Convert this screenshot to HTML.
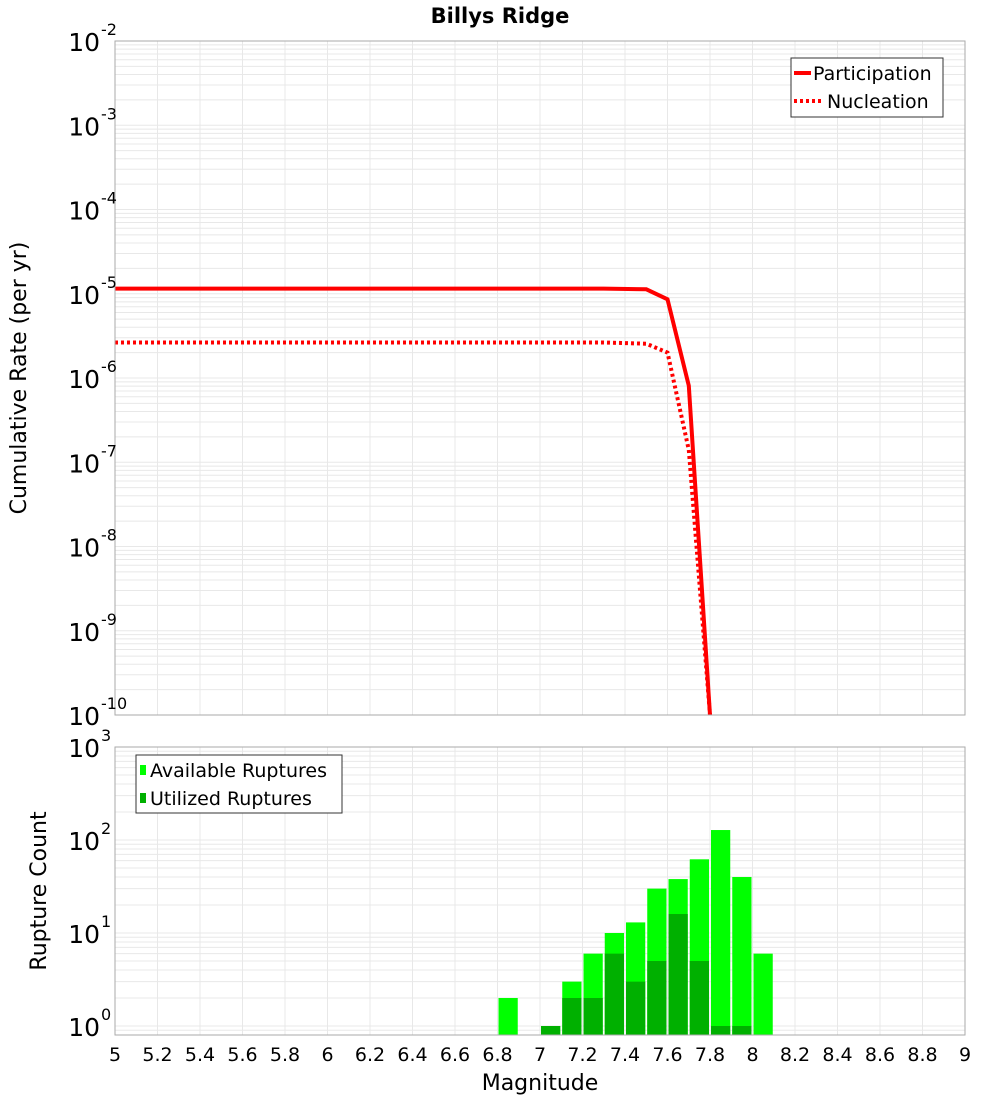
<!DOCTYPE html>
<html><head><meta charset="utf-8"><style>
body{margin:0;background:#fff;}
svg text{font-family:"DejaVu Sans","Liberation Sans",sans-serif;}
</style></head><body>
<svg id="chart" width="1000" height="1100" xmlns="http://www.w3.org/2000/svg">
<text x="500" y="23" text-anchor="middle" font-size="21" font-weight="bold">Billys Ridge</text>
<g id="topPlot"></g>
<g id="botPlot"></g>
<text transform="translate(26,378) rotate(-90)" text-anchor="middle" font-size="22">Cumulative Rate (per yr)</text>
<text transform="translate(46,891) rotate(-90)" text-anchor="middle" font-size="22">Rupture Count</text>
<text x="540" y="1090" text-anchor="middle" font-size="22">Magnitude</text>
</svg>
<script>
const magPart = [5.0, 7.3, 7.5, 7.6, 7.7, 7.8];
const ratePart = [1.15e-5, 1.15e-5, 1.13e-5, 8.6e-6, 8.1e-7, 1e-11];
const magNucl = [5.0, 7.3, 7.5, 7.6, 7.7, 7.8];
const rateNucl = [2.64e-6, 2.64e-6, 2.55e-6, 2.0e-6, 1.4e-7, 1e-11];
const binCenters = [6.85, 7.05, 7.15, 7.25, 7.35, 7.45, 7.55, 7.65, 7.75, 7.85, 7.95, 8.05];
const availCounts = [2, 1, 3, 6, 10, 13, 30, 38, 62, 128, 40, 6];
const usedCounts = [0, 1, 2, 2, 6, 3, 5, 16, 5, 1, 1, 0];
const xTicks = [5,5.2,5.4,5.6,5.8,6,6.2,6.4,6.6,6.8,7,7.2,7.4,7.6,7.8,8,8.2,8.4,8.6,8.8,9];
const topExps = [-2,-3,-4,-5,-6,-7,-8,-9,-10];
const botExps = [3,2,1,0];

const NS="http://www.w3.org/2000/svg";
const X0=115,X1=965;
const xs=m=>X0+(m-5)/4*(X1-X0);
const T0=41,T1=715; const yTop=v=>T0+(-2-Math.log10(v))/8*(T1-T0);
const B0=747,B1=1035; const BDEC=93; const yBot=v=>1026-Math.log10(v)*BDEC;
function mk(p,tag,a,txt){const e=document.createElementNS(NS,tag);for(const k in a)e.setAttribute(k,a[k]);if(txt!==undefined)e.textContent=txt;p.appendChild(e);return e;}
const gTop=document.getElementById('topPlot'),gBot=document.getElementById('botPlot');

function grid(g,y0,y1,decs,yf){
  for(const t of xTicks){const l=mk(g,'line',{x1:xs(t),x2:xs(t),y1:y0,y2:y1,stroke:'#e8e8e8'});
    
    }
  for(const d of decs){for(let k=1;k<10;k++){const y=yf(k*Math.pow(10,d));if(y<y0-0.5||y>y1+0.5)continue;
    const l=mk(g,'line',{x1:X0,x2:X1,y1:y,y2:y,stroke:'#e8e8e8'});
    
    }}
}
grid(gTop,T0,T1,[-3,-4,-5,-6,-7,-8,-9,-10],yTop);
grid(gBot,B0,B1,[-1,0,1,2],yBot);

function path(xa,ya){return xa.map((m,i)=>(i?'L':'M')+xs(m).toFixed(1)+','+Math.min(T1,yTop(ya[i])).toFixed(1)).join(' ');}
const cp=mk(gTop,'clipPath',{id:'cpt'});mk(cp,'rect',{x:X0,y:T0,width:X1-X0,height:T1-T0});
const pl=mk(gTop,'path',{d:path(magPart,ratePart),fill:'none',stroke:'#ff0000','stroke-width':4,'clip-path':'url(#cpt)'});


const nl=mk(gTop,'path',{d:path(magNucl,rateNucl),fill:'none',stroke:'#ff0000','stroke-width':4,'stroke-dasharray':'3,3','clip-path':'url(#cpt)'});


mk(gTop,'rect',{x:X0,y:T0,width:X1-X0,height:T1-T0,fill:'none',stroke:'#aaa'});

const cb=mk(gBot,'clipPath',{id:'cpb'});mk(cb,'rect',{x:X0,y:B0,width:X1-X0,height:B1-B0});
const bw=0.1*(X1-X0)/4;
binCenters.forEach((c,i)=>{
  const x=xs(c)-bw/2+1;
  if(availCounts[i]>0){const y=yBot(availCounts[i]);
    const r=mk(gBot,'rect',{x:x,y:y,width:bw-2,height:B1-y,fill:'#00ff00','clip-path':'url(#cpb)'});
    
    }
  if(usedCounts[i]>0){const y=yBot(usedCounts[i]);
    const r=mk(gBot,'rect',{x:x,y:y,width:bw-2,height:B1-y,fill:'#00b000','clip-path':'url(#cpb)'});
    
    }
});
mk(gBot,'rect',{x:X0,y:B0,width:X1-X0,height:B1-B0,fill:'none',stroke:'#aaa'});

function ylab(g,e,y,name){const t=mk(g,'text',{x:100,y:y+10,'text-anchor':'end','font-size':25});t.textContent='10';
  
  
  mk(g,'text',{x:101,y:y-6,'font-size':16},String(e));}
topExps.forEach(e=>ylab(gTop,e,yTop(Math.pow(10,e)),'y-tick-label-rate'));
botExps.forEach(e=>ylab(gBot,e,yBot(Math.pow(10,e)),'y-tick-label-count'));
xTicks.forEach(t=>{const e=mk(gBot,'text',{x:xs(t),y:1061,'text-anchor':'middle','font-size':19},String(+t.toFixed(1)));
  
  });

const lg=mk(gTop,'g',{});


mk(lg,'rect',{x:791,y:58,width:152,height:59,fill:'#fff',stroke:'#333'});
mk(lg,'line',{x1:794,x2:811,y1:73,y2:73,stroke:'#f00','stroke-width':4});
mk(lg,'text',{x:813,y:80,'font-size':19},'Participation');
mk(lg,'line',{x1:794,x2:823,y1:101,y2:101,stroke:'#f00','stroke-width':4,'stroke-dasharray':'3,3'});
mk(lg,'text',{x:827,y:108,'font-size':19},'Nucleation');
const lb=mk(gBot,'g',{});


mk(lb,'rect',{x:136,y:755,width:206,height:58,fill:'#fff',stroke:'#333'});
mk(lb,'rect',{x:140,y:765,width:6,height:10,fill:'#00ff00'});
mk(lb,'text',{x:150,y:777,'font-size':19},'Available Ruptures');
mk(lb,'rect',{x:140,y:793,width:6,height:10,fill:'#00b000'});
mk(lb,'text',{x:150,y:805,'font-size':19},'Utilized Ruptures');
</script>
</body></html>
